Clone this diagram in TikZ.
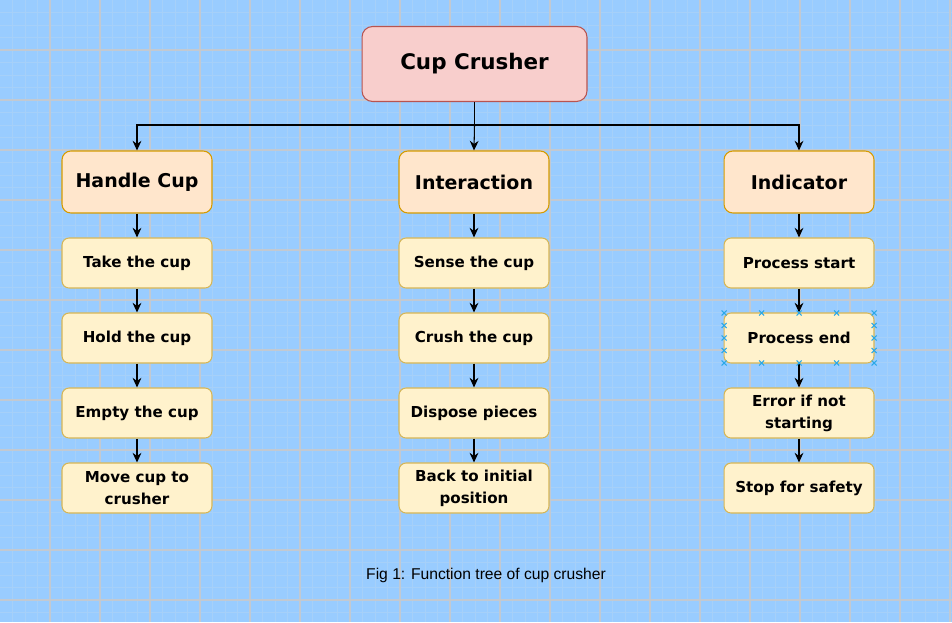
\documentclass[tikz,border=0pt]{standalone}
\usepackage{fontspec}
\setmainfont{DejaVu Sans}
\newfontfamily\capfont{Liberation Sans}
\usetikzlibrary{arrows.meta}

\definecolor{bgblue}{HTML}{99CCFF}
\definecolor{minorgrid}{HTML}{A6D0F9}
\definecolor{majorgrid}{HTML}{C2C9D2}
\definecolor{topfill}{HTML}{F8CECC}
\definecolor{topline}{HTML}{B85450}
\definecolor{midfill}{HTML}{FFE6CC}
\definecolor{midline}{HTML}{D79B00}
\definecolor{lowfill}{HTML}{FFF2CC}
\definecolor{lowline}{HTML}{D6B656}
\definecolor{selblue}{HTML}{29A8E8}

\begin{document}
\begin{tikzpicture}[x=0.02cm, y=-0.02cm,
  every node/.style={font=\bfseries},
  box/.style={draw, align=center, line width=0.6pt, inner sep=2pt},
  topbox/.style={box, rounded corners=6pt, fill=topfill, draw=topline,
    minimum width=4.5cm, minimum height=1.5cm, font=\bfseries\fontsize{12.2}{15}\selectfont},
  midbox/.style={box, rounded corners=5pt, fill=midfill, draw=midline,
    minimum width=3cm, minimum height=1.24cm, font=\bfseries\fontsize{10.8}{13}\selectfont},
  lowbox/.style={box, rounded corners=4pt, fill=lowfill, draw=lowline,
    minimum width=3cm, minimum height=1cm, font=\bfseries\fontsize{8.6}{12.5}\selectfont},
  link/.style={line width=0.6pt, -{Stealth[length=5.5pt,width=5pt]}}]

  \useasboundingbox (0,0) rectangle (952,622);
  % background grid
  \fill[bgblue] (0,0) rectangle (952,622);
  \foreach \x in {12.5,25,...,950} \draw[minorgrid, line width=0.5pt] (\x,0) -- (\x,622);
  \foreach \y in {12.5,25,...,620} \draw[minorgrid, line width=0.5pt] (0,\y) -- (952,\y);
  \foreach \x in {50,100,...,950} \draw[majorgrid, line width=0.7pt] (\x,0) -- (\x,622);
  \foreach \y in {50,100,...,600} \draw[majorgrid, line width=0.7pt] (0,\y) -- (952,\y);

  % tree
  \node[topbox] (top) at (474.5,64) {Cup Crusher};
  \coordinate (split) at (474.5,125);

  \node[midbox] (handle) at (137,182) {Handle Cup};
  \node[midbox] (inter) at (474,182) {Interaction};
  \node[midbox] (indic) at (799,182) {Indicator};

  \node[lowbox] (hc1) at (137,263) {Take the cup};
  \node[lowbox] (hc2) at (137,338) {Hold the cup};
  \node[lowbox] (hc3) at (137,413) {Empty the cup};
  \node[lowbox] (hc4) at (137,488) {Move cup to\\crusher};

  \node[lowbox] (ia1) at (474,263) {Sense the cup};
  \node[lowbox] (ia2) at (474,338) {Crush the cup};
  \node[lowbox] (ia3) at (474,413) {Dispose pieces};
  \node[lowbox] (ia4) at (474,488) {Back to initial\\position};

  \node[lowbox] (in1) at (799,263) {Process start};
  \node[lowbox] (in2) at (799,338) {Process end};
  \node[lowbox] (in3) at (799,413) {Error if not\\starting};
  \node[lowbox] (in4) at (799,488) {Stop for safety};

  \draw[line width=0.6pt] (top.south) -- (split);
  \draw[link] (split) -| (handle.north);
  \draw[link] (split) -- (inter.north);
  \draw[link] (split) -| (indic.north);

  \draw[link] (handle) -- (hc1);
  \draw[link] (hc1) -- (hc2);
  \draw[link] (hc2) -- (hc3);
  \draw[link] (hc3) -- (hc4);
  \draw[link] (inter) -- (ia1);
  \draw[link] (ia1) -- (ia2);
  \draw[link] (ia2) -- (ia3);
  \draw[link] (ia3) -- (ia4);
  \draw[link] (indic) -- (in1);
  \draw[link] (in1) -- (in2);
  \draw[link] (in2) -- (in3);
  \draw[link] (in3) -- (in4);

  % selection handles
  \foreach \x in {724,761.5,799,836.5,874}
    \foreach \y in {313,363}
      \draw[selblue, line width=0.6pt] (\x,\y) +(-2.5,-2.5) -- +(2.5,2.5) +(-2.5,2.5) -- +(2.5,-2.5);
  \foreach \x in {724,874}
    \foreach \y in {325.5,338,350.5}
      \draw[selblue, line width=0.6pt] (\x,\y) +(-2.5,-2.5) -- +(2.5,2.5) +(-2.5,2.5) -- +(2.5,-2.5);

  \node[font=\capfont\fontsize{8.9}{11}\selectfont] (caption) at (486,575) {Fig 1: Function tree of cup crusher};
\end{tikzpicture}
\end{document}
